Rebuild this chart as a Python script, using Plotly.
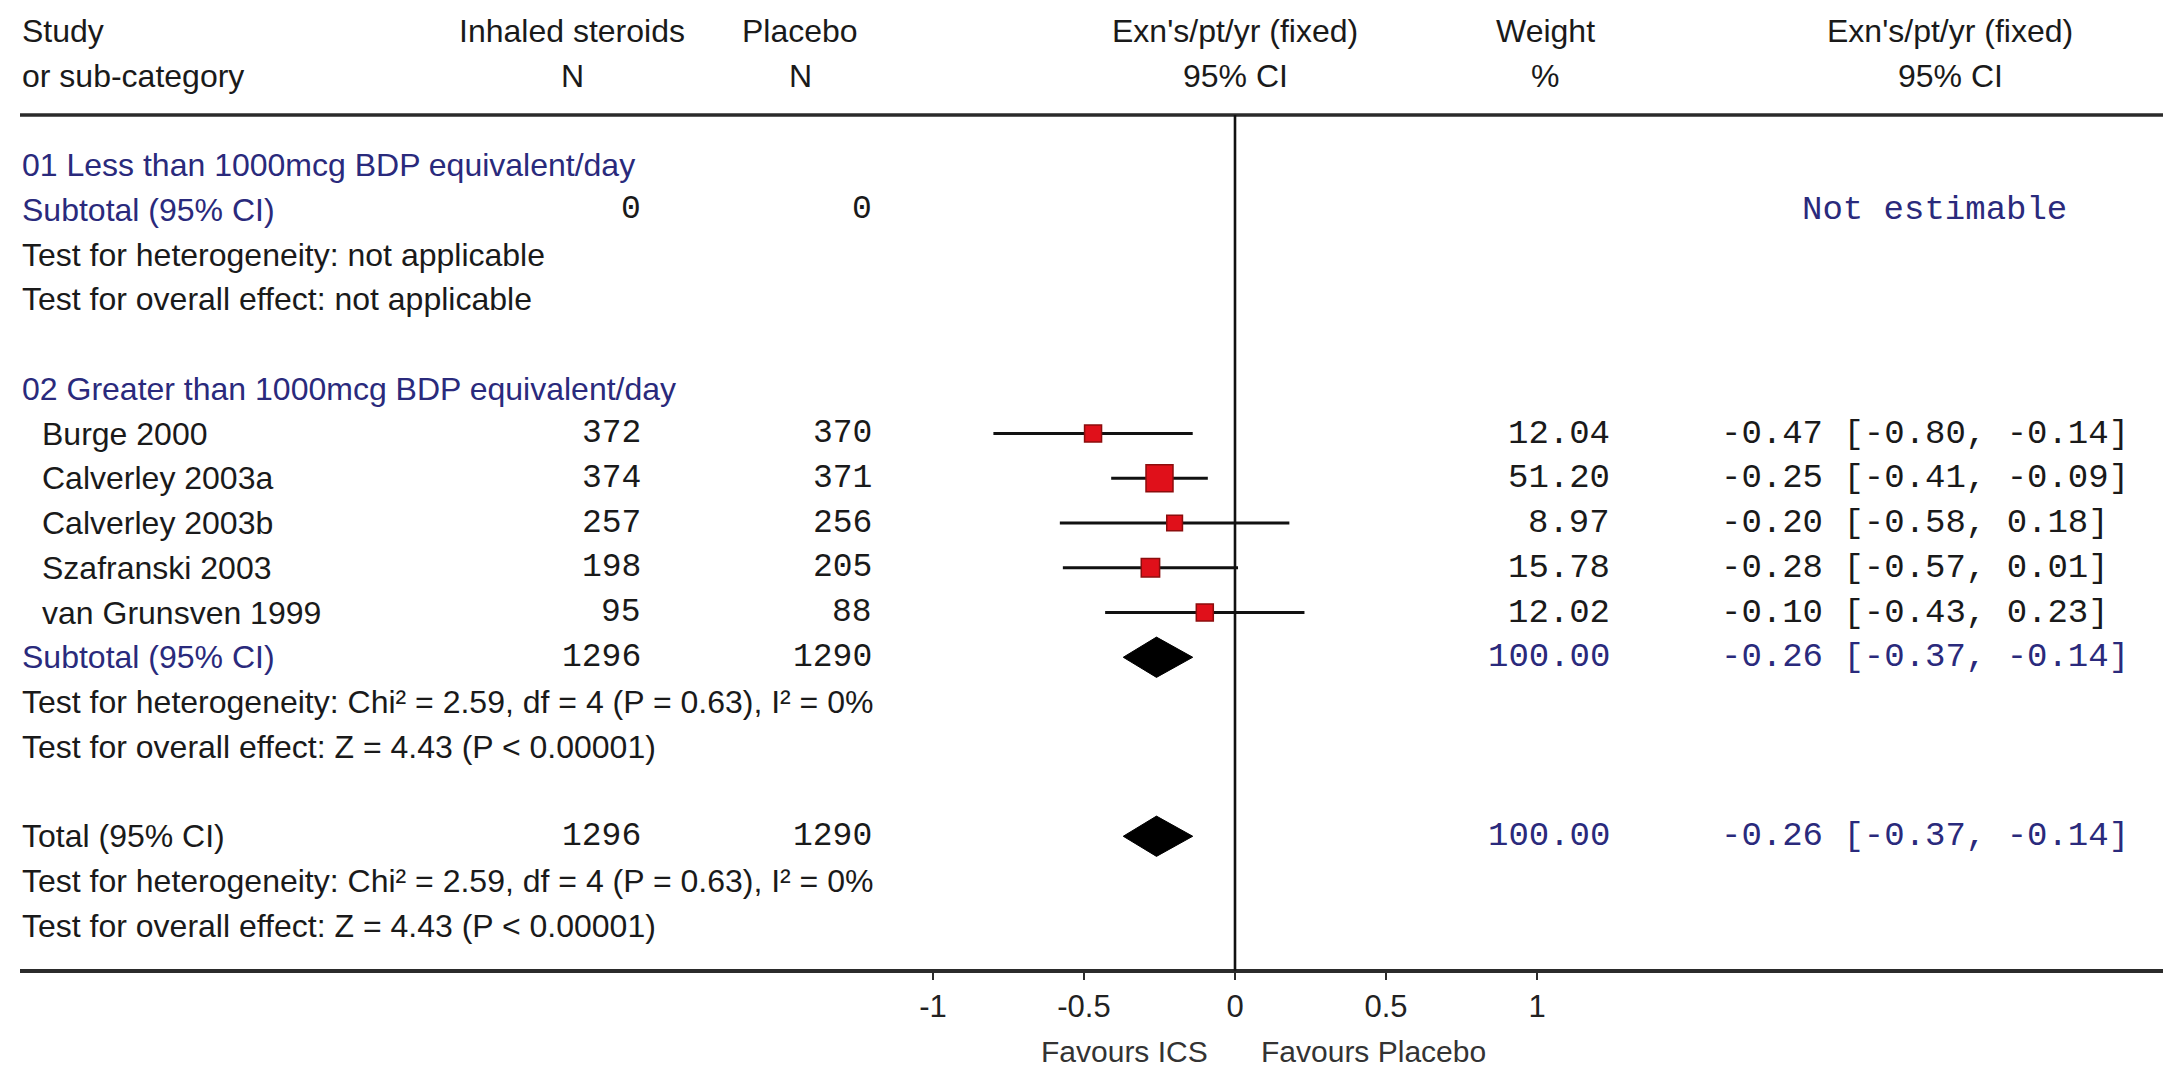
import plotly.graph_objects as go
import math

W, H = 2173, 1076

# ---------------- data ----------------
header_row1 = ["Study", "Inhaled steroids", "Placebo", "Exn's/pt/yr (fixed)", "Weight", "Exn's/pt/yr (fixed)"]
header_row2 = ["or sub-category", "N", "N", "95% CI", "%", "95% CI"]

group1_title = "01 Less than 1000mcg BDP equivalent/day"
group1_n_ics = 0
group1_n_placebo = 0
group1_het = "Test for heterogeneity: not applicable"
group1_overall = "Test for overall effect: not applicable"
group1_result = "Not estimable"

group2_title = "02 Greater than 1000mcg BDP equivalent/day"
studies = ["Burge 2000", "Calverley 2003a", "Calverley 2003b", "Szafranski 2003", "van Grunsven 1999"]
n_ics = [372, 374, 257, 198, 95]
n_placebo = [370, 371, 256, 205, 88]
weights = [12.04, 51.20, 8.97, 15.78, 12.02]
est = [-0.47, -0.25, -0.20, -0.28, -0.10]
ci_lo = [-0.80, -0.41, -0.58, -0.57, -0.43]
ci_hi = [-0.14, -0.09, 0.18, 0.01, 0.23]

summary_labels = ["Subtotal (95% CI)", "Total (95% CI)"]
summary_n_ics = [1296, 1296]
summary_n_placebo = [1290, 1290]
summary_weight = [100.00, 100.00]
summary_est = [-0.26, -0.26]
summary_lo = [-0.37, -0.37]
summary_hi = [-0.14, -0.14]
het_text = "Test for heterogeneity: Chi\u00b2 = 2.59, df = 4 (P = 0.63), I\u00b2 = 0%"
overall_text = "Test for overall effect: Z = 4.43 (P < 0.00001)"

tick_vals = [-1, -0.5, 0, 0.5, 1]
tick_text = ["-1", "-0.5", "0", "0.5", "1"]
favours_left = "Favours ICS"
favours_right = "Favours Placebo"

# ---------------- layout geometry ----------------
ROW0_PX = 165.0
ROW_H = 44.75
Y_TOP = -ROW0_PX / ROW_H
Y_BOT = Y_TOP + H / ROW_H

ZERO_PX = 1235.0
UNIT_PX = 302.0
X_L_PX, X_R_PX = 20.0, 2163.0
X_MIN = -(ZERO_PX - X_L_PX) / UNIT_PX
X_MAX = X_MIN + (X_R_PX - X_L_PX) / UNIT_PX

def row_paper(k):
    return 1 - (k - Y_TOP) / (Y_BOT - Y_TOP)

SANS = "Liberation Sans, Arial, sans-serif"
MONO = "Liberation Mono, Courier New, monospace"
BLACK = "#1a1a1a"
NAVY = "#2a2a7c"
LINE = "#2b2b2b"

annotations = []

def txt(x_px, k, s, anchor="left", font=SANS, size=32, color=BLACK):
    annotations.append(dict(
        x=x_px / W, xref="paper", y=k, yref="y", text=s, showarrow=False,
        xanchor=anchor, yanchor="middle",
        font=dict(family=font, size=size, color=color)))

# column positions (px)
C_LEFT, C_INDENT = 20, 40
C_N1, C_N2 = 643, 874
H_N1, H_N2 = 572, 800
H_PLOT, H_W, H_CI = 1235, 1545, 1950
C_W, C_CI, C_NE = 1612, 1719, 1800

# headers
txt(C_LEFT, -3, header_row1[0])
txt(H_N1, -3, header_row1[1], "center")
txt(H_N2, -3, header_row1[2], "center")
txt(H_PLOT, -3, header_row1[3], "center")
txt(H_W, -3, header_row1[4], "center")
txt(H_CI, -3, header_row1[5], "center")
txt(C_LEFT, -2, header_row2[0])
txt(H_N1, -2, header_row2[1], "center")
txt(H_N2, -2, header_row2[2], "center")
txt(H_PLOT, -2, header_row2[3], "center")
txt(H_W, -2, header_row2[4], "center")
txt(H_CI, -2, header_row2[5], "center")

# group 1
txt(C_LEFT, 0, group1_title, color=NAVY)
txt(C_LEFT, 1, summary_labels[0], color=NAVY)
txt(C_N1, 1, str(group1_n_ics), "right", MONO, 33)
txt(C_N2, 1, str(group1_n_placebo), "right", MONO, 33)
txt(C_NE, 1, group1_result, "left", MONO, 34, NAVY)
txt(C_LEFT, 2, group1_het)
txt(C_LEFT, 3, group1_overall)

# group 2
G2 = 5
txt(C_LEFT, G2, group2_title, color=NAVY)
study_rows = [G2 + 1 + i for i in range(len(studies))]
for i, k in enumerate(study_rows):
    txt(C_INDENT, k, studies[i])
    txt(C_N1, k, str(n_ics[i]), "right", MONO, 33)
    txt(C_N2, k, str(n_placebo[i]), "right", MONO, 33)
    txt(C_W, k, f"{weights[i]:.2f}", "right", MONO, 34)
    txt(C_CI, k, f"{est[i]:.2f} [{ci_lo[i]:.2f}, {ci_hi[i]:.2f}]", "left", MONO, 34)

summary_rows = [study_rows[-1] + 1, study_rows[-1] + 5]
for j, k in enumerate(summary_rows):
    txt(C_LEFT, k, summary_labels[j], color=NAVY if j == 0 else BLACK)
    txt(C_N1, k, str(summary_n_ics[j]), "right", MONO, 33)
    txt(C_N2, k, str(summary_n_placebo[j]), "right", MONO, 33)
    txt(C_W, k, f"{summary_weight[j]:.2f}", "right", MONO, 34, NAVY)
    txt(C_CI, k, f"{summary_est[j]:.2f} [{summary_lo[j]:.2f}, {summary_hi[j]:.2f}]", "left", MONO, 34, NAVY)
    txt(C_LEFT, k + 1, het_text)
    txt(C_LEFT, k + 2, overall_text)

AXIS_ROW = summary_rows[-1] + 3
FAV_ROW = AXIS_ROW + 1.8
txt(ZERO_PX - 25, FAV_ROW, favours_left, "right", SANS, 30, "#333333")
txt(ZERO_PX + 24, FAV_ROW, favours_right, "left", SANS, 30, "#333333")

# ---------------- traces ----------------
fig = go.Figure()

for i, k in enumerate(study_rows):
    fig.add_trace(go.Scatter(
        x=[ci_lo[i], ci_hi[i]], y=[k, k], mode="lines",
        line=dict(color="#111111", width=2.8), hoverinfo="skip", showlegend=False))

marker_sizes = [7.6 + 2.71 * math.sqrt(w) for w in weights]
fig.add_trace(go.Scatter(
    x=est, y=study_rows, mode="markers",
    marker=dict(symbol="square", size=marker_sizes, color="#e0101a", opacity=1,
                line=dict(color="#8c0d0d", width=1.5)),
    showlegend=False, hoverinfo="x+y"))

HALF_D = 0.45
for j, k in enumerate(summary_rows):
    fig.add_trace(go.Scatter(
        x=[summary_lo[j], summary_est[j], summary_hi[j], summary_est[j], summary_lo[j]],
        y=[k, k - HALF_D, k, k + HALF_D, k],
        mode="lines", fill="toself", fillcolor="#000000",
        line=dict(color="#000000", width=1), showlegend=False, hoverinfo="skip"))

TOP_LINE_ROW = -1.12
shapes = [
    dict(type="line", xref="paper", yref="y", x0=X_L_PX / W, x1=X_R_PX / W,
         y0=TOP_LINE_ROW, y1=TOP_LINE_ROW, line=dict(color=LINE, width=3.5)),
    dict(type="line", xref="x", yref="y", x0=0, x1=0, y0=TOP_LINE_ROW, y1=AXIS_ROW,
         line=dict(color="#111111", width=2.6)),
]

fig.update_layout(
    width=W, height=H,
    margin=dict(l=0, r=0, t=0, b=0),
    paper_bgcolor="white", plot_bgcolor="white",
    showlegend=False,
    annotations=annotations,
    shapes=shapes,
    xaxis=dict(
        domain=[X_L_PX / W, X_R_PX / W], range=[X_MIN, X_MAX],
        anchor="free", position=row_paper(AXIS_ROW),
        showgrid=False, zeroline=False,
        showline=True, linecolor=LINE, linewidth=3.5,
        ticks="outside", ticklen=8, tickwidth=2, tickcolor=LINE,
        tickvals=tick_vals, ticktext=tick_text,
        tickfont=dict(family=SANS, size=31, color="#222222"),
        fixedrange=True,
    ),
    yaxis=dict(
        domain=[0, 1], range=[Y_BOT, Y_TOP], visible=False, fixedrange=True,
    ),
)

fig.write_html("out.html")
